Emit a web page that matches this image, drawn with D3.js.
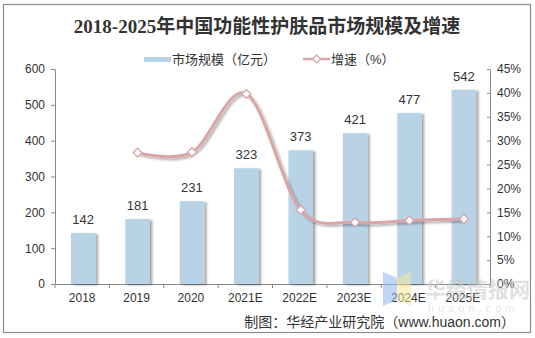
<!DOCTYPE html>
<html>
<head>
<meta charset="utf-8">
<script src="https://cdn.jsdelivr.net/npm/d3@7"></script>
<style>
  body { margin: 0; background: #fff; }
  text { font-family: Arial, "Liberation Sans", "Noto Sans CJK SC", sans-serif; }
</style>
</head>
<body>
<div id="chart"></div>
<script>
const years = ["2018", "2019", "2020", "2021E", "2022E", "2023E", "2024E", "2025E"];
const marketSize = [142, 181, 231, 323, 373, 421, 477, 542];
const growthYears = ["2019", "2020", "2021E", "2022E", "2023E", "2024E", "2025E"];
const growthRate = [27.5, 27.6, 39.8, 15.5, 12.9, 13.3, 13.6];
const leftTicks = [0, 100, 200, 300, 400, 500, 600];
const rightTicks = [0, 5, 10, 15, 20, 25, 30, 35, 40, 45];

const W = 535, H = 338;
const margin = { top: 69, right: 45, bottom: 54, left: 55 };
const width = W - margin.left - margin.right;
const height = H - margin.top - margin.bottom;

const svg = d3.select("#chart")
    .append("svg")
    .attr("width", W)
    .attr("height", H);

const defs = svg.append("defs");
defs.append("filter").attr("id", "barShadow")
    .attr("x", "-20%").attr("y", "-5%").attr("width", "150%").attr("height", "110%")
    .append("feDropShadow")
    .attr("dx", 2.5).attr("dy", 1).attr("stdDeviation", 1.2)
    .attr("flood-color", "#000").attr("flood-opacity", 0.35);
defs.append("filter").attr("id", "lineShadow")
    .attr("x", "-10%").attr("y", "-10%").attr("width", "120%").attr("height", "130%")
    .append("feDropShadow")
    .attr("dx", 2).attr("dy", 2).attr("stdDeviation", 1.2)
    .attr("flood-color", "#000").attr("flood-opacity", 0.3);

// outer border
svg.append("rect")
    .attr("x", 3.5).attr("y", 4.5)
    .attr("width", 527).attr("height", 328)
    .attr("fill", "#fff")
    .attr("stroke", "#8c8c8c")
    .attr("stroke-width", 1.2);

// title
svg.append("text")
    .attr("x", 267)
    .attr("y", 33)
    .attr("text-anchor", "middle")
    .style("font-family", "'Liberation Serif', 'Noto Sans CJK SC', serif")
    .style("font-size", "19px")
    .style("font-weight", "bold")
    .style("fill", "#333")
    .text("2018-2025年中国功能性护肤品市场规模及增速");

const g = svg.append("g")
    .attr("transform", `translate(${margin.left},${margin.top})`);

const xScale = d3.scaleBand()
    .domain(years)
    .range([0, width])
    .paddingInner(0.55)
    .paddingOuter(0.275);

const xBand = d3.scaleBand().domain(years).range([0, width]);

const yLeft = d3.scaleLinear().domain([0, 600]).range([height, 0]);
const yRight = d3.scaleLinear().domain([0, 45]).range([height, 0]);

// watermark
const wm = svg.append("g").attr("opacity", 0.55);
wm.append("polygon")
    .attr("points", "383,272 397,278 397,300 383,306")
    .attr("fill", "#8fb4ee");
wm.append("polygon")
    .attr("points", "397,278 411,272 411,306 397,300")
    .attr("fill", "#f7e79a");
wm.append("text")
    .attr("x", 425).attr("y", 297)
    .style("font-size", "21px").style("font-weight", "bold")
    .style("fill", "#c8c8c8")
    .text("华经情报网");
wm.append("text")
    .attr("x", 428).attr("y", 312)
    .style("font-size", "11px")
    .style("letter-spacing", "4px")
    .style("fill", "#d0d0d0")
    .text("huaon.com");

// left axis
const leftAxis = g.append("g")
    .call(d3.axisLeft(yLeft).tickValues(leftTicks).tickSize(4).tickSizeOuter(0));
leftAxis.selectAll("text").attr("x", -10).style("font-size", "12px").style("fill", "#333");

// right axis
const rightAxis = g.append("g")
    .attr("transform", `translate(${width},0)`)
    .call(d3.axisRight(yRight).tickValues(rightTicks).tickSize(-3).tickSizeOuter(0)
        .tickFormat(d => d + "%"));
rightAxis.selectAll("text").attr("x", 7).style("font-size", "12px").style("fill", "#333");

// bottom axis
const bottomAxis = g.append("g")
    .attr("transform", `translate(0,${height})`)
    .call(d3.axisBottom(xBand).tickSize(0).tickSizeOuter(0));
bottomAxis.selectAll("text").attr("y", 9).style("font-size", "12px").style("fill", "#333");
bottomAxis.selectAll(".sep")
    .data(d3.range(years.length + 1))
    .enter().append("line")
    .attr("class", "sep")
    .attr("x1", i => i * xBand.bandwidth())
    .attr("x2", i => i * xBand.bandwidth())
    .attr("y1", 0).attr("y2", 4)
    .attr("stroke", "#888");

g.selectAll(".domain, .tick line").attr("stroke", "#888");

// bars
g.selectAll(".bar")
    .data(marketSize)
    .enter().append("rect")
    .attr("class", "bar")
    .attr("x", (d, i) => xScale(years[i]) + 1)
    .attr("y", d => yLeft(d))
    .attr("width", xScale.bandwidth())
    .attr("height", d => height - yLeft(d))
    .attr("fill", "#b8d3e6")
    .attr("filter", "url(#barShadow)");

g.selectAll(".barLabel")
    .data(marketSize)
    .enter().append("text")
    .attr("class", "barLabel")
    .attr("x", (d, i) => xScale(years[i]) + 1 + xScale.bandwidth() / 2)
    .attr("y", d => yLeft(d) - 9)
    .attr("text-anchor", "middle")
    .style("font-size", "13px")
    .style("fill", "#333")
    .text(d => d);

// growth line
const linePts = growthRate.map((v, i) => [
    xBand(growthYears[i]) + xBand.bandwidth() / 2 + 1,
    yRight(v)
]);

g.append("path")
    .datum(linePts)
    .attr("d", d3.line().curve(d3.curveCardinal.tension(0)))
    .attr("fill", "none")
    .attr("stroke", "#d9a5a5")
    .attr("stroke-width", 3)
    .attr("filter", "url(#lineShadow)");

g.selectAll(".marker")
    .data(linePts)
    .enter().append("path")
    .attr("class", "marker")
    .attr("transform", d => `translate(${d[0]},${d[1]})`)
    .attr("d", d3.symbol(d3.symbolDiamond2, 50))
    .attr("fill", "#fff")
    .attr("stroke", "#d9a5a5")
    .attr("stroke-width", 1.3);

// legend
const legend = svg.append("g");
legend.append("rect")
    .attr("x", 144).attr("y", 57)
    .attr("width", 27).attr("height", 5)
    .attr("fill", "#b8d3e6");
legend.append("text")
    .attr("x", 172).attr("y", 64)
    .style("font-size", "13px").style("fill", "#333")
    .text("市场规模（亿元）");
legend.append("line")
    .attr("x1", 303).attr("x2", 330)
    .attr("y1", 59).attr("y2", 59)
    .attr("stroke", "#d9a5a5").attr("stroke-width", 2.5);
legend.append("path")
    .attr("transform", "translate(316.5,59)")
    .attr("d", d3.symbol(d3.symbolDiamond2, 40))
    .attr("fill", "#fff")
    .attr("stroke", "#d9a5a5")
    .attr("stroke-width", 1.2);
legend.append("text")
    .attr("x", 331).attr("y", 64)
    .style("font-size", "13px").style("fill", "#333")
    .text("增速（%）");

// source
svg.append("text")
    .attr("x", 515)
    .attr("y", 327)
    .attr("text-anchor", "end")
    .style("font-size", "14px")
    .style("fill", "#333")
    .text("制图：华经产业研究院（www.huaon.com）");
</script>
</body>
</html>
